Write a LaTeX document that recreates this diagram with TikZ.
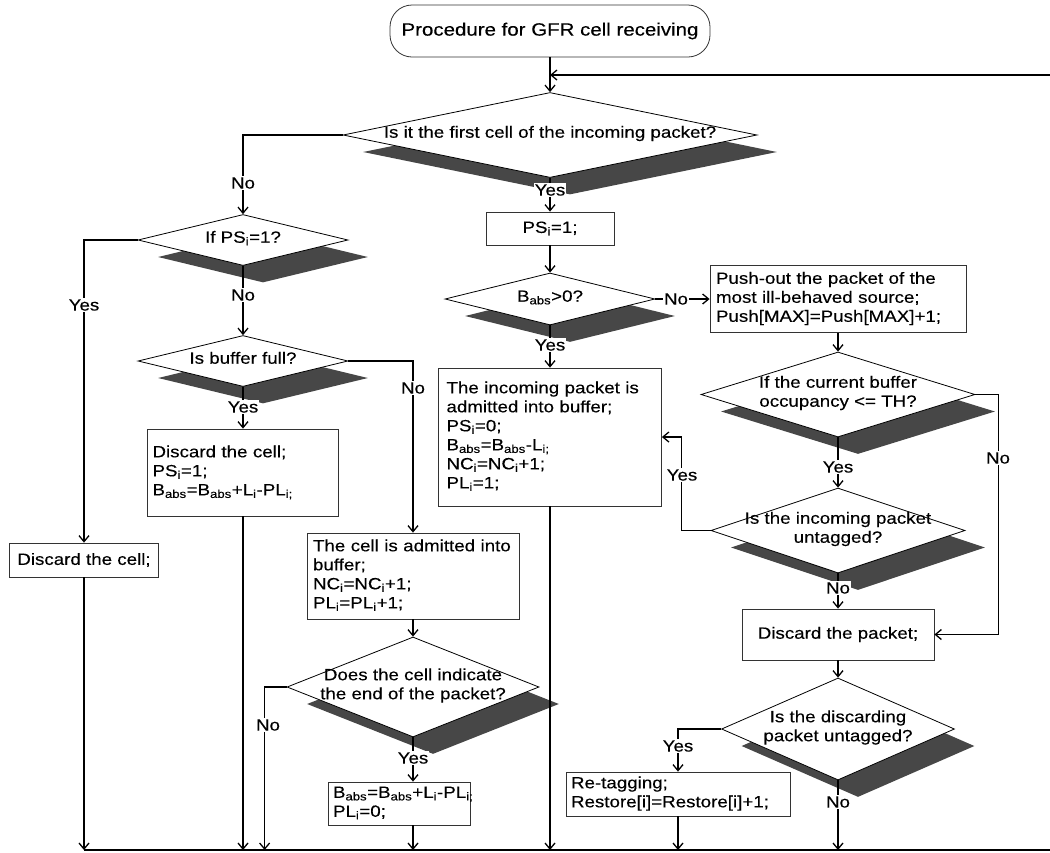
\documentclass[tikz,border=0pt]{standalone}
\usepackage{fontspec}
\setmainfont{Liberation Sans}[FakeStretch=1.15,FakeBold=0.25]
\usetikzlibrary{shapes.geometric,shadows,arrows.meta}
\newcommand\sbs[1]{\textsubscript{#1}}
\newcommand\lt[1]{\begin{tabular}{@{}l@{}}#1\end{tabular}}
\newcommand\dtx[1]{\raisebox{-6.5pt}{\smash{\makebox[0pt]{\begin{tabular}{@{}c@{}}#1\end{tabular}}}}}
\begin{document}
\begin{tikzpicture}[x=1pt,y=-1pt,
  every node/.style={font=\fontsize{16.3}{19}\selectfont},
  box/.style={draw=black!80, line width=0.8pt, fill=white, inner ysep=2pt},
  lbox/.style={box, align=left},
  cbox/.style={box, align=center, inner xsep=2pt},
  term/.style={draw=black!80, line width=0.8pt, rounded corners=22pt, minimum width=320pt, minimum height=52pt, font=\fontsize{17.8}{20}\selectfont},
  dia/.style={shape=diamond, draw=black, line width=0.8pt, fill=white, inner sep=0pt,
    general shadow={fill=black!72, shadow xshift=20pt, shadow yshift=-17pt}},
  lab/.style={fill=white, inner sep=1pt},
  ln/.style={line width=1.3pt},
  arr/.style={ln, -{Straight Barb[length=6pt,width=10pt]}}]
\useasboundingbox (0,0) rectangle (1050,852);

% nodes
\node[term] (start) at (550,31) {Procedure for GFR cell receiving};
\node[dia, minimum width=414pt, minimum height=85pt] (D0) at (550,135) {\dtx{Is it the first cell of the incoming packet?}};
\node[cbox, minimum width=128pt, minimum height=33pt] (ps1) at (550,228.5) {PS\sbs{i}=1;};
\node[dia, minimum width=210pt, minimum height=52pt] (Dbabs) at (550,299) {\dtx{B\sbs{abs}>0?}};
\node[lbox, inner xsep=6pt, text width=244pt, minimum height=67pt] (push) at (838,299) {\lt{Push-out the packet of the\\most ill-behaved source;\\Push[MAX]=Push[MAX]+1;}};
\node[dia, minimum width=274pt, minimum height=85pt] (Dth) at (838,394.5) {\dtx{If the current buffer\\occupancy <= TH?}};
\node[lbox, inner xsep=8pt, text width=207pt, minimum height=138pt] (big) at (550,437) {\lt{The incoming packet is\\admitted into buffer;\\PS\sbs{i}=0;\\B\sbs{abs}=B\sbs{abs}-L\sbs{i;}\\NC\sbs{i}=NC\sbs{i}+1;\\PL\sbs{i}=1;}};
\node[dia, minimum width=254pt, minimum height=85pt] (Duntag) at (838,530.5) {\dtx{Is the incoming packet\\untagged?}};
\node[cbox, minimum width=192pt, minimum height=51pt] (discpkt) at (838,634.5) {Discard the packet;};
\node[dia, minimum width=233pt, minimum height=102pt] (Ddisc) at (838,729) {\dtx{Is the discarding\\packet untagged?}};
\node[lbox, inner xsep=5pt, text width=214pt, minimum height=44pt] (retag) at (678,794) {\lt{Re-tagging;\\Restore[i]=Restore[i]+1;}};
\node[dia, minimum width=210pt, minimum height=51pt] (Dps) at (243,240) {\dtx{If PS\sbs{i}=1?}};
\node[dia, minimum width=210pt, minimum height=51pt] (Dfull) at (243,361) {\dtx{Is buffer full?}};
\node[lbox, inner xsep=5pt, text width=181pt, minimum height=87pt] (disc1) at (243,472.5) {\lt{Discard the cell;\\PS\sbs{i}=1;\\B\sbs{abs}=B\sbs{abs}+L\sbs{i}-PL\sbs{i;}}};
\node[cbox, minimum width=149pt, minimum height=34pt] (small) at (84,560) {Discard the cell;};
\node[lbox, inner xsep=6pt, text width=200pt, minimum height=86pt] (cell) at (413,576) {\lt{The cell is admitted into\\buffer;\\NC\sbs{i}=NC\sbs{i}+1;\\PL\sbs{i}=PL\sbs{i}+1;}};
\node[dia, minimum width=252pt, minimum height=100pt] (Dend) at (413,687) {\dtx{Does the cell indicate\\the end of the packet?}};
\node[lbox, inner xsep=5pt, text width=132pt, minimum height=43pt] (babs) at (399,803.5) {\lt{B\sbs{abs}=B\sbs{abs}+L\sbs{i}-PL\sbs{i;}\\PL\sbs{i}=0;}};

% coordinates
\coordinate (busL) at (84,850);
\coordinate (busR) at (1050,850);
\coordinate (fbR) at (1050,75);
\coordinate (join) at (550,75);
\coordinate (endL) at ([xshift=-22pt]Dend.west);

% connectors
\draw[arr] (start) -- (D0);
\draw[ln] (busL) -- (busR);
\draw[arr] (fbR) -- (join);
\draw[arr] (D0.west) -| (Dps.north);
\draw[arr] (D0.south) -- (ps1.north);
\draw[arr] (ps1.south) -- (Dbabs.north);
\draw[arr] (Dbabs.east) -- (push.west);
\draw[arr] (Dbabs.south) -- (big.north);
\draw[arr] (push.south) -- (Dth.north);
\draw[arr] (Dth.south) -- (Duntag.north);
\draw[arr] (Dth.east) -- ++(23,0) |- (discpkt.east);
\draw[arr] (Duntag.west) -- ++(-29,0) |- (big.east);
\draw[arr] (Duntag.south) -- (discpkt.north);
\draw[arr] (discpkt.south) -- (Ddisc.north);
\draw[arr] (Ddisc.west) -| (retag.north);
\draw[arr] (Ddisc.south) -- (Ddisc.south |- busL);
\draw[arr] (retag.south) -- (retag.south |- busL);
\draw[arr] (big.south) -- (big.south |- busL);
\draw[arr] (Dps.west) -| (small.north);
\draw[arr] (Dps.south) -- (Dfull.north);
\draw[arr] (Dfull.east) -| (cell.north);
\draw[arr] (Dfull.south) -- (disc1.north);
\draw[arr] (disc1.south) -- (disc1.south |- busL);
\draw[arr] (small.south) -- (small.south |- busL);
\draw[arr] (cell.south) -- (Dend.north);
\draw[arr] (Dend.south) -- (Dend.south |- babs.north);
\draw[arr] (Dend.south |- babs.south) -- (Dend.south |- busL);
\draw[arr] (Dend.west) -| (endL |- busL);

% labels
\node[lab] (lNo1) at (243,183) {No};
\node[lab] (lYes1) at (550,190) {Yes};
\node[lab] (lNo2) at (676,299) {No};
\node[lab] (lYes2) at (550,345) {Yes};
\node[lab] (lYes3) at (838,467) {Yes};
\node[lab] (lNo3) at (998,458) {No};
\node[lab] (lYes4) at (682,475) {Yes};
\node[lab] (lNo4) at (838,588) {No};
\node[lab] (lYes5) at (678,746) {Yes};
\node[lab] (lNo5) at (838,802) {No};
\node[lab] (lYes6) at (84,305) {Yes};
\node[lab] (lNo6) at (243,295) {No};
\node[lab] (lNo7) at (413,388) {No};
\node[lab] (lYes7) at (243,407) {Yes};
\node[lab] (lYes8) at (413,758) {Yes};
\node[lab] (lNo8) at (268,725) {No};
\end{tikzpicture}
\end{document}
